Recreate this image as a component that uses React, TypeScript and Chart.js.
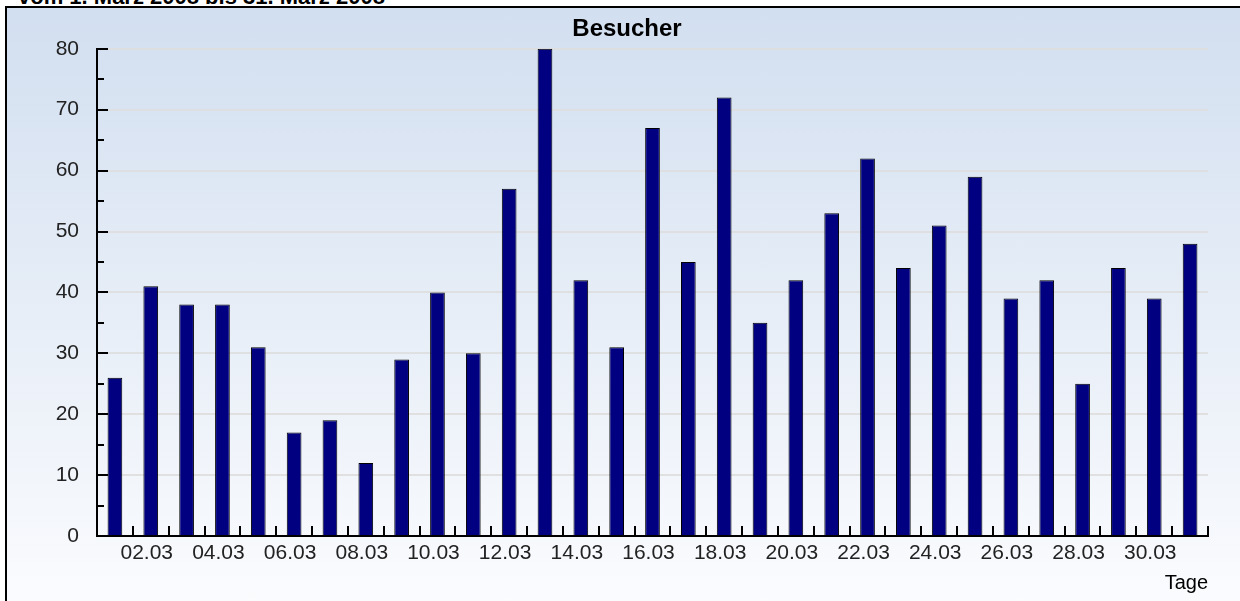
import React, { useEffect, useRef } from 'react';
import { Chart, registerables } from 'chart.js';

Chart.register(...registerables);

const headerText = 'vom 1. März 2008 bis 31. März 2008';
const chartTitle = 'Besucher';
const xAxisTitle = 'Tage';

const days = [
  '01.03', '02.03', '03.03', '04.03', '05.03', '06.03', '07.03', '08.03',
  '09.03', '10.03', '11.03', '12.03', '13.03', '14.03', '15.03', '16.03',
  '17.03', '18.03', '19.03', '20.03', '21.03', '22.03', '23.03', '24.03',
  '25.03', '26.03', '27.03', '28.03', '29.03', '30.03', '31.03',
];

const visitors = [
  26, 41, 38, 38, 31, 17, 19, 12, 29, 40, 30, 57, 80, 42, 31, 67,
  45, 72, 35, 42, 53, 62, 44, 51, 59, 39, 42, 25, 44, 39, 48,
];

const yMin = 0;
const yMax = 80;
const yStep = 10;
const yMinorStep = 5;

const FONT = "'Liberation Sans', Arial, sans-serif";

const innerTicks = {
  id: 'innerTicks',
  afterDatasetsDraw(chart: any) {
    const { ctx, chartArea, scales } = chart;
    const x = scales.x;
    const y = scales.y;
    const n = chart.data.labels.length;
    ctx.save();
    ctx.strokeStyle = '#000';
    ctx.lineWidth = 2;
    ctx.beginPath();
    for (let i = 1; i <= n; i++) {
      const px = i < n
        ? (x.getPixelForValue(i - 1) + x.getPixelForValue(i)) / 2
        : chartArea.right;
      const rx = Math.round(px);
      ctx.moveTo(rx, y.getPixelForValue(yMin));
      ctx.lineTo(rx, y.getPixelForValue(yMin) - 10);
    }
    for (let v = yMin; v <= yMax; v += yMinorStep) {
      const py = Math.round(y.getPixelForValue(v));
      const len = v % yStep === 0 ? 11 : 7;
      ctx.moveTo(chartArea.left, py);
      ctx.lineTo(chartArea.left + len, py);
    }
    ctx.stroke();
    ctx.restore();
  },
};

export default function App() {
  const canvasRef = useRef<HTMLCanvasElement | null>(null);

  useEffect(() => {
    document.body.style.margin = '0';
    const canvas = canvasRef.current;
    if (!canvas) return;
    const chart = new Chart(canvas, {
      type: 'bar',
      data: {
        labels: days,
        datasets: [
          {
            label: chartTitle,
            data: visitors,
            backgroundColor: '#000080',
            borderColor: '#000000',
            borderWidth: 1,
            categoryPercentage: 1,
            barPercentage: 0.41,
          },
        ],
      },
      plugins: [innerTicks],
      options: {
        responsive: false,
        animation: false,
        devicePixelRatio: 1,
        layout: { padding: { left: 46, right: 32, top: 0, bottom: 0 } },
        plugins: {
          legend: { display: false },
          tooltip: { enabled: false },
          title: {
            display: true,
            text: chartTitle,
            color: '#000',
            font: { family: FONT, size: 24, weight: 'bold' },
            padding: { top: 15, bottom: 5 },
          },
        },
        scales: {
          x: {
            afterFit: (s: any) => { s.height = 65; },
            grid: { display: false, drawTicks: false },
            border: { display: true, color: '#000', width: 2 },
            ticks: {
              autoSkip: false,
              maxRotation: 0,
              padding: 5,
              labelOffset: -4,
              color: '#222',
              font: { family: FONT, size: 21 },
              callback: (_v: any, i: number) => (i % 2 === 1 ? days[i] : ''),
            },
            title: {
              display: true,
              text: xAxisTitle,
              align: 'end',
              color: '#000',
              font: { family: FONT, size: 20 },
              padding: { top: 0, bottom: 6 },
            },
          },
          y: {
            min: yMin,
            max: yMax,
            afterFit: (s: any) => { s.width = 51; },
            grid: { color: 'rgba(222,222,222,0.9)', lineWidth: 2, drawTicks: false },
            border: { display: true, color: '#000', width: 2 },
            ticks: {
              stepSize: yStep,
              padding: 18,
              color: '#222',
              font: { family: FONT, size: 21 },
            },
          },
        },
      },
    });
    return () => chart.destroy();
  }, []);

  return (
    <div style={{ position: 'relative', width: 1240, height: 601, overflow: 'hidden', background: '#fff' }}>
      <div
        style={{
          position: 'absolute',
          left: 5,
          top: 6,
          width: 1240,
          height: 601,
          borderLeft: '2px solid #000',
          borderTop: '2px solid #000',
          background: 'linear-gradient(to bottom, #d2dff0 0%, #fbfcfe 100%)',
        }}
      />
      <div
        style={{
          position: 'absolute',
          left: 18,
          top: -14,
          fontFamily: FONT,
          fontWeight: 'bold',
          fontSize: 22,
          lineHeight: '22px',
          color: '#000',
          whiteSpace: 'nowrap',
        }}
      >
        {headerText}
      </div>
      <canvas
        ref={canvasRef}
        width={1240}
        height={601}
        style={{ position: 'absolute', left: 0, top: 0, display: 'block' }}
      />
    </div>
  );
}
